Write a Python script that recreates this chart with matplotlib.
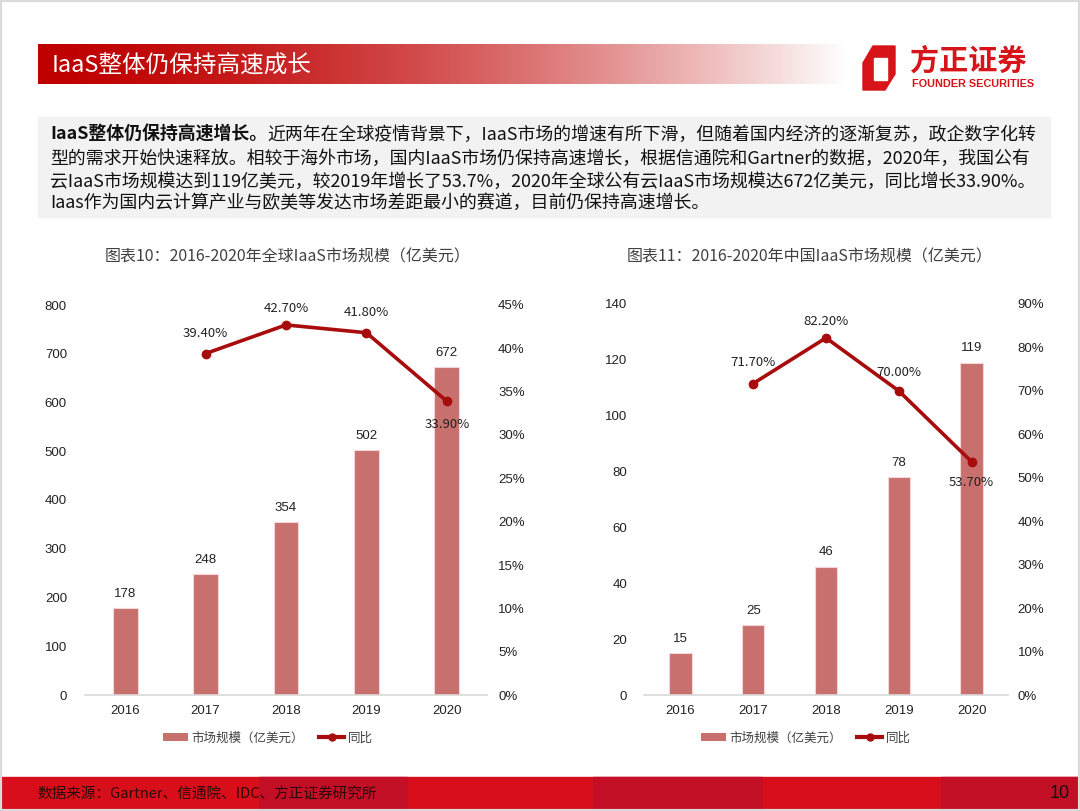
import matplotlib
matplotlib.use("Agg")
import matplotlib.pyplot as plt
import numpy as np
from matplotlib.patches import Rectangle, Polygon, Patch
from matplotlib.lines import Line2D

plt.rcParams['font.family'] = ['Noto Sans CJK SC', 'DejaVu Sans']

# ---- data ----
years = ['2016', '2017', '2018', '2019', '2020']
global_size = [178, 248, 354, 502, 672]
global_yoy_years = ['2017', '2018', '2019', '2020']
global_yoy = [39.40, 42.70, 41.80, 33.90]
china_size = [15, 25, 46, 78, 119]
china_yoy = [71.70, 82.20, 70.00, 53.70]

title_main = "IaaS整体仍保持高速成长"
chart1_title = "图表10：2016-2020年全球IaaS市场规模（亿美元）"
chart2_title = "图表11：2016-2020年中国IaaS市场规模（亿美元）"
legend_bar = "市场规模（亿美元）"
legend_line = "同比"
source = "数据来源：Gartner、信通院、IDC、方正证券研究所"
body_bold = "IaaS整体仍保持高速增长。"
body_lines = [
    "近两年在全球疫情背景下，IaaS市场的增速有所下滑，但随着国内经济的逐渐复苏，政企数字化转",
    "型的需求开始快速释放。相较于海外市场，国内IaaS市场仍保持高速增长，根据信通院和Gartner的数据，2020年，我国公有",
    "云IaaS市场规模达到119亿美元，较2019年增长了53.7%，2020年全球公有云IaaS市场规模达672亿美元，同比增长33.90%。",
    "Iaas作为国内云计算产业与欧美等发达市场差距最小的赛道，目前仍保持高速增长。",
]

W, H = 1080, 811
BAR = '#C8706E'
LINE = '#A80C0C'
TXT = '#404040'
NUM = ['Liberation Sans', 'DejaVu Sans']

fig = plt.figure(figsize=(W / 100, H / 100), dpi=100)

# overlay in pixel coordinates
ov = fig.add_axes([0, 0, 1, 1])
ov.set_xlim(0, W)
ov.set_ylim(H, 0)
ov.axis('off')
ov.patch.set_alpha(0)

# header gradient bar
t = np.linspace(0, 1, 400)
f = t ** 1.6
red = np.array([0.75, 0.0, 0.0])
grad = red[None, :] * (1 - f[:, None]) + np.ones(3)[None, :] * f[:, None]
ov.imshow(grad[None, :, :], extent=(38, 848, 84, 44), aspect='auto', zorder=1)
ov.text(52, 65, title_main, color='white', fontsize=17, va='center', ha='left', zorder=2)

# logo
ov.add_patch(Polygon([(873, 46), (895, 46), (895, 74), (885, 90), (863, 90), (863, 63)],
                     closed=True, color='#D7141A', zorder=2))
ov.add_patch(Rectangle((874, 58), 13, 22, color='white', zorder=3))
ov.text(910, 61, "方正证券", color='#D7141A', fontsize=21, fontweight='bold', va='center', ha='left')
ov.text(912, 84, "FOUNDER SECURITIES", color='#D7141A', fontsize=7.8, fontweight='bold',
        va='center', ha='left', family=['Liberation Sans Narrow', 'Liberation Sans', 'DejaVu Sans'])

# text box
ov.add_patch(Rectangle((38, 117), 1012, 100, color='#F2F2F2', zorder=0))
tb = ov.text(50, 135, body_bold, fontsize=12.9, fontweight='bold', va='center', ha='left', color='#111111')
ov.annotate(body_lines[0], xy=(1, 0.5), xycoords=tb, va='center', ha='left', fontsize=12.9, color='#111111')
for i, ln in enumerate(body_lines[1:]):
    ov.text(50, [159, 182, 203][i], ln, fontsize=12.9, va='center', ha='left', color='#111111')

# chart titles
ov.text(288, 257, chart1_title, fontsize=11.5, color=TXT, ha='center', va='center')
ov.text(810, 257, chart2_title, fontsize=11.5, color=TXT, ha='center', va='center')

# footer band
ov.add_patch(Rectangle((0, 777), W, 31, color='#D80F1A', zorder=0))
for x0, x1 in [(259, 407), (593, 762), (941, W)]:
    ov.add_patch(Rectangle((x0, 777), x1 - x0, 31, color='#C20F26', zorder=0))
ov.text(37, 794, source, fontsize=10.5, color='#2a0a0a', ha='left', va='center', style='italic')
ov.text(1070, 793, "10", fontsize=13, color='#111111', ha='right', va='center', family=NUM)


def draw_chart(rect, sizes, yoy, ymax, ystep, pmax, pstep, lbl_dy, lpad, rpad):
    ax = fig.add_axes(rect)
    ax.patch.set_alpha(0)
    x = np.arange(len(years))
    ax.bar(x, sizes, width=0.31, color=BAR, edgecolor='#F4D6D6', linewidth=0.8, zorder=2)
    for xi, v in zip(x, sizes):
        ax.annotate(str(v), (xi, v), xytext=(0, 6), textcoords='offset points',
                    ha='center', va='bottom', fontsize=9.5, color='#222222', family=NUM)
    ax.set_xlim(-0.5, len(years) - 0.5)
    ax.set_ylim(0, ymax)
    ax.set_yticks(np.arange(0, ymax + 1, ystep))
    ax.set_xticks(x)
    ax.set_xticklabels(years, family=NUM, fontsize=9.5, color='#222222')
    for lab in ax.get_yticklabels():
        lab.set_family(NUM)
    ax.tick_params(axis='y', length=0, pad=lpad, labelsize=9.5, labelcolor='#222222')
    ax.tick_params(axis='x', length=0, pad=7)
    for s in ['top', 'left', 'right']:
        ax.spines[s].set_visible(False)
    ax.spines['bottom'].set_color('#D9D9D9')
    ax.spines['bottom'].set_linewidth(1.2)

    ax2 = ax.twinx()
    xl = x[1:]
    ax2.plot(xl, np.array(yoy) / 100, color=LINE, lw=2.6, marker='o', ms=6, zorder=3)
    ax2.set_ylim(0, pmax)
    ax2.set_yticks(np.arange(0, pmax + 1e-9, pstep))
    ax2.set_yticklabels([f"{int(round(v * 100))}%" for v in np.arange(0, pmax + 1e-9, pstep)],
                        family=['Liberation Sans Narrow', 'Liberation Sans', 'DejaVu Sans'])
    ax2.tick_params(axis='y', length=0, pad=rpad, labelsize=9.5, labelcolor='#222222')
    for s in ['top', 'left', 'right', 'bottom']:
        ax2.spines[s].set_visible(False)
    for xi, v, dy in zip(xl, yoy, lbl_dy):
        ax2.annotate(f"{v:.2f}%", (xi, v / 100), xytext=(0, dy * 0.72), textcoords='offset points',
                     ha='center', va='center', fontsize=9.5, color='#222222')
    return ax


draw_chart([85 / W, 1 - 695 / H, 402 / W, 390 / H], global_size, global_yoy,
           800, 100, 0.45, 0.05, [20, 16, 20, -23], 13, 8)
draw_chart([644 / W, 1 - 695 / H, 364 / W, 391 / H], china_size, china_yoy,
           140, 20, 0.90, 0.10, [21, 16, 18, -21], 12, 7)

handles = [Patch(facecolor=BAR, edgecolor='none'),
           Line2D([], [], color=LINE, lw=3, marker='o', ms=5)]
for cx in [268, 806]:
    fig.legend(handles, [legend_bar, legend_line], loc='center', bbox_to_anchor=(cx / W, 1 - 738 / H),
               ncol=2, frameon=False, fontsize=9, handlelength=2.0, handleheight=0.6,
               columnspacing=1.2, handletextpad=0.3, labelcolor=TXT)

fig.patches.append(Rectangle((0, 0), 1, 1, fill=False, edgecolor='#DADADA', lw=3,
                             transform=fig.transFigure, figure=fig))

fig.savefig("out.png", dpi=100)
